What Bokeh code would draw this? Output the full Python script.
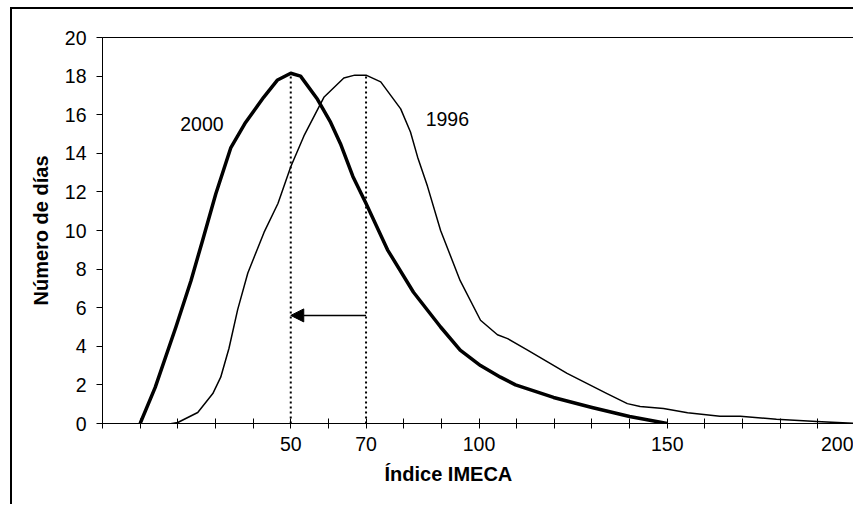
from bokeh.plotting import figure
from bokeh.models import FixedTicker, Label, Arrow, NormalHead, Range1d, Title
from bokeh.embed import file_html
from bokeh.resources import INLINE

# ---- data ----
imeca_2000 = [10, 14, 19.5, 23.5, 26.6, 30.1, 34.1, 38, 42.8, 46.5, 50, 52.6, 57.1, 60.6,
              63.2, 66.5, 70, 75.7, 82.6, 89.8, 95, 100.4, 105.7, 109.7, 119.8, 130, 140, 150]
dias_2000 = [0.0, 1.87, 5.0, 7.4, 9.5, 11.9, 14.3, 15.6, 16.9, 17.8, 18.15, 18.0, 16.8, 15.6,
             14.5, 12.8, 11.4, 9.0, 6.8, 5.0, 3.8, 3.0, 2.4, 2.0, 1.35, 0.83, 0.36, 0.0]

imeca_1996 = [10, 15.5, 20, 25.3, 29.3, 31.4, 33.6, 35.9, 38.6, 42.9, 46.6, 50, 53.5, 58.8,
              64.1, 67, 70, 73.9, 79.2, 81.8, 83.7, 86.3, 89.8, 95, 100.4, 104.9, 107.6,
              112.9, 119, 123.4, 134, 139.4, 142.8, 149, 155.4, 164, 169.4, 179, 189.7, 200]
dias_1996 = [0.0, -0.1, 0.05, 0.57, 1.55, 2.4, 3.9, 5.9, 7.8, 9.9, 11.4, 13.3, 14.9, 16.9,
             17.9, 18.05, 18.05, 17.7, 16.3, 15.1, 13.8, 12.3, 10.0, 7.4, 5.35, 4.6, 4.4,
             3.8, 3.1, 2.6, 1.55, 1.03, 0.88, 0.78, 0.56, 0.37, 0.37, 0.22, 0.1, 0.0]

x_ticks = [0, 10, 20, 30, 40, 50, 60, 70, 80, 90, 100, 110, 120, 130, 140, 150, 160, 170,
           180, 190, 200]
x_tick_labels = {50: "50", 70: "70", 100: "100", 150: "150", 200: "200"}
y_ticks = [0, 2, 4, 6, 8, 10, 12, 14, 16, 18, 20]

peaks_x = [50, 70]
peaks_y = [18.15, 18.05]
arrow_y = 5.6

series_labels = ["2000", "1996"]
series_label_x = [26.4, 91.6]
series_label_y = [15.5, 15.8]

x_title = "Índice IMECA"
y_title = "Número de días"

FONT = "Liberation Sans"
TICK_SIZE = "19.5px"
TITLE_SIZE = "20px"

p = figure(width=843, height=497, x_range=Range1d(0, 200), y_range=Range1d(0, 20),
           output_backend="svg", toolbar_location=None,
           min_border_left=90, min_border_right=0, min_border_top=28, min_border_bottom=83)
p.styles = {"margin-left": "10px", "margin-top": "7px",
            "border-top": "2px solid black", "border-left": "2px solid black"}

p.xgrid.visible = False
p.ygrid.visible = False
p.outline_line_color = "black"
p.outline_line_width = 1
p.background_fill_color = "white"
p.border_fill_color = "white"

# x axis
p.xaxis.ticker = FixedTicker(ticks=x_ticks)
p.xaxis.major_label_overrides = {t: x_tick_labels.get(t, "") for t in x_ticks}
p.xaxis.minor_tick_line_color = None
p.xaxis.major_tick_in = 5
p.xaxis.major_tick_out = 5
p.xaxis.axis_line_color = "black"
p.xaxis.major_tick_line_color = "black"
p.xaxis.major_label_text_font = FONT
p.xaxis.major_label_text_font_size = TICK_SIZE
p.xaxis.major_label_text_color = "black"
p.xaxis.major_label_standoff = 8

# y axis
p.yaxis.ticker = FixedTicker(ticks=y_ticks)
p.yaxis.minor_tick_line_color = None
p.yaxis.major_tick_in = 0
p.yaxis.major_tick_out = 6
p.yaxis.axis_line_color = "black"
p.yaxis.major_tick_line_color = "black"
p.yaxis.major_label_text_font = FONT
p.yaxis.major_label_text_font_size = TICK_SIZE
p.yaxis.major_label_text_color = "black"
p.yaxis.major_label_standoff = 10
p.yaxis.axis_label = y_title
p.yaxis.axis_label_text_font = FONT
p.yaxis.axis_label_text_font_size = TITLE_SIZE
p.yaxis.axis_label_text_font_style = "bold"
p.yaxis.axis_label_text_color = "black"
p.yaxis.axis_label_standoff = 10

# x axis title, placed left-aligned with an offset like the original
p.add_layout(Title(text=x_title, align="left", offset=282, text_font=FONT,
                   text_font_size=TITLE_SIZE, text_font_style="bold", text_color="black",
                   standoff=14), "below")

# curves
p.line(imeca_1996, dias_1996, line_color="black", line_width=1.5, line_join="round")
p.line(imeca_2000, dias_2000, line_color="black", line_width=3.5, line_join="round")

# dotted peak markers
p.segment(x0=peaks_x, y0=[0, 0], x1=peaks_x, y1=peaks_y, line_color="black",
          line_width=2, line_dash="2 3")

# arrow from 1996 peak to 2000 peak
p.add_layout(Arrow(end=NormalHead(size=13, fill_color="black", line_color="black"),
                   x_start=peaks_x[1], y_start=arrow_y, x_end=peaks_x[0], y_end=arrow_y,
                   line_color="black", line_width=1.5))

for t, lx, ly in zip(series_labels, series_label_x, series_label_y):
    p.add_layout(Label(x=lx, y=ly, text=t, text_align="center", text_baseline="middle",
                       text_font=FONT, text_font_size=TICK_SIZE, text_color="black"))

open("out.html", "w").write(file_html(p, INLINE))
